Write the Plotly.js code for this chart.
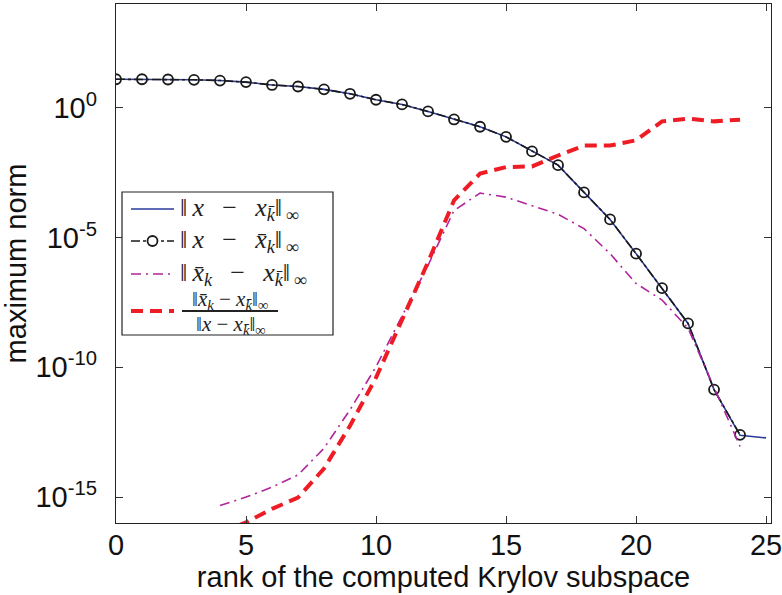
<!DOCTYPE html>
<html>
<head>
<meta charset="utf-8">
<script src="https://cdn.plot.ly/plotly-3.0.1.min.js"></script>
<style>html,body{margin:0;padding:0;background:#fff;}#chart{width:782px;height:595px;}</style>
</head>
<body>
<div id="chart"></div>
<script>
// rank of the computed Krylov subspace
const rankFull = [0,1,2,3,4,5,6,7,8,9,10,11,12,13,14,15,16,17,18,19,20,21,22,23,24,25];
const rankCircles = [0,1,2,3,4,5,6,7,8,9,10,11,12,13,14,15,16,17,18,19,20,21,22,23,24];
const rankDiff = [4,5,6,7,8,9,10,11,12,13,14,15,16,17,18,19,20,21,22,23,24];

// ||x - x_kbar||_inf
const errExact = [12.6,12.6,12.3,12.0,11.2,9.77,7.59,6.61,5.13,3.47,2.04,1.35,0.724,0.355,0.186,0.0759,0.0209,6.17e-3,5.5e-4,5.0e-5,2.4e-6,1.12e-7,4.9e-9,1.38e-11,2.4e-13,1.9e-13];
// ||x - xbar_k||_inf
const errApprox = [12.6,12.6,12.3,12.0,11.2,9.77,7.59,6.61,5.13,3.47,2.04,1.35,0.724,0.355,0.186,0.0759,0.0209,6.17e-3,5.5e-4,5.0e-5,2.4e-6,1.12e-7,4.9e-9,1.38e-11,2.5e-13];
// ||xbar_k - x_kbar||_inf
const diffAbs = [4.7e-16,1.0e-15,2.4e-15,7.1e-15,7.6e-14,2.3e-12,1.05e-10,8.9e-9,8.5e-7,1.1e-4,5.2e-4,3.6e-4,1.66e-4,7.9e-5,2.2e-5,2.4e-6,1.7e-7,3.9e-8,3.2e-9,1.8e-11,8.9e-14];
// ||xbar_k - x_kbar||_inf / ||x - x_kbar||_inf
const diffRel = [4.2e-17,1.05e-16,3.5e-16,9.5e-16,1.26e-14,5.6e-13,4.0e-11,6.6e-9,1.12e-6,2.7e-4,2.9e-3,5.2e-3,5.5e-3,1.45e-2,3.5e-2,3.5e-2,5.6e-2,0.30,0.38,0.30,0.35];

const yTickVals = [1e-15,1e-10,1e-5,1];
const yTickText = ['10<sup>-15</sup>','10<sup>-10</sup>','10<sup>-5</sup>','10<sup>0</sup>'];
const xTickVals = [0,5,10,15,20,25];

const legendNames = [
  '‖\u2009<i>x</i>\u2009  −  \u2009<i>x</i><sub><i>k̄</i></sub>‖<sub>\u2009∞</sub>',
  '‖\u2009<i>x</i>\u2009  −  \u2009<i>x̄</i><sub><i>k</i></sub>‖<sub>\u2009∞</sub>',
  '‖\u2009<i>x̄</i><sub><i>k</i></sub>\u2009  −  \u2009<i>x</i><sub><i>k̄</i></sub>‖<sub>\u2009∞</sub>'
];
const fracNum = '‖<i>x̄</i><sub><i>k</i></sub> − <i>x</i><sub><i>k̄</i></sub>‖<sub>∞</sub>';
const fracDen = '‖<i>x</i> − <i>x</i><sub><i>k̄</i></sub>‖<sub>∞</sub>';

const colors = {exact: '#2b3a9c', approx: '#1a1a1a', diff: '#b0259c', rel: '#ee1c25'};
const styles = {
  exact: {color: colors.exact, width: 1.6, dash: 'solid'},
  approx: {color: colors.approx, width: 1.6, dash: 'dashdot'},
  diff: {color: colors.diff, width: 1.6, dash: '10px,5px,2px,5px'},
  rel: {color: colors.rel, width: 4, dash: '12px,7px'}
};

const traces = [
  {x: rankFull, y: errExact, type: 'scatter', mode: 'lines', name: 'exact', line: styles.exact, showlegend: false},
  {x: rankCircles, y: errApprox, type: 'scatter', mode: 'lines+markers', name: 'approx', line: styles.approx,
   marker: {symbol: 'circle-open', size: 10, color: colors.approx, line: {width: 1.8, color: colors.approx}}, showlegend: false},
  {x: rankDiff, y: diffAbs, type: 'scatter', mode: 'lines', name: 'diff', line: styles.diff, showlegend: false},
  {x: rankDiff, y: diffRel, type: 'scatter', mode: 'lines', name: 'rel', line: styles.rel, showlegend: false}
];

// plot area in pixels (for legend placement)
const M = {l: 116, r: 11, t: 4, b: 72};
const W = 782, H = 595;
const PW = W - M.l - M.r, PH = H - M.t - M.b;
const px = v => (v - M.l) / PW;
const py = v => (H - M.b - v) / PH;

const shapes = [];
const annotations = [];
// legend box
shapes.push({type: 'rect', xref: 'paper', yref: 'paper', x0: px(122), x1: px(333), y0: py(192), y1: py(335),
  line: {color: '#222', width: 1.2}, fillcolor: '#fff', layer: 'above'});
const rows = [209, 241, 274, 311];
const keys = ['exact', 'approx', 'diff', 'rel'];
keys.forEach((k, i) => {
  shapes.push({type: 'line', xref: 'paper', yref: 'paper', x0: px(131), x1: px(174), y0: py(rows[i]), y1: py(rows[i]),
    line: styles[k], layer: 'above'});
});
// marker sample for approx
shapes.push({type: 'circle', xref: 'paper', yref: 'paper', xsizemode: 'pixel', ysizemode: 'pixel',
  xanchor: px(152.5), yanchor: py(rows[1]), x0: -5, x1: 5, y0: -5, y1: 5,
  line: {color: colors.approx, width: 1.8}, fillcolor: '#fff', layer: 'above'});
const legFont = {family: 'Liberation Serif, DejaVu Serif, serif', size: 26, color: '#222'};
legendNames.forEach((t, i) => {
  annotations.push({xref: 'paper', yref: 'paper', x: px(178), y: py(rows[i]), xanchor: 'left', yanchor: 'middle',
    text: t, showarrow: false, font: legFont});
});
const fracFont = {family: 'Liberation Serif, DejaVu Serif, serif', size: 21, color: '#222'};
annotations.push({xref: 'paper', yref: 'paper', x: px(230), y: py(300), xanchor: 'center', yanchor: 'middle',
  text: fracNum, showarrow: false, font: fracFont});
annotations.push({xref: 'paper', yref: 'paper', x: px(231), y: py(325), xanchor: 'center', yanchor: 'middle',
  text: fracDen, showarrow: false, font: fracFont});
shapes.push({type: 'line', xref: 'paper', yref: 'paper', x0: px(182), x1: px(278), y0: py(311), y1: py(311),
  line: {color: '#222', width: 1.8}, layer: 'above'});

const axisFont = {family: 'Liberation Sans, Arial, sans-serif', size: 29, color: '#111'};

const layout = {
  width: W, height: H,
  margin: {l: M.l, r: M.r, t: M.t, b: M.b, pad: 0},
  paper_bgcolor: '#fff', plot_bgcolor: '#fff',
  showlegend: false,
  font: axisFont,
  xaxis: {
    range: [0, 25.19], tickvals: xTickVals, ticktext: xTickVals.map(String),
    ticks: 'inside', ticklen: 7, tickwidth: 1, tickcolor: '#333',
    showline: true, linecolor: '#222', linewidth: 1.2, mirror: 'ticks',
    showgrid: false, zeroline: false, tickfont: axisFont, ticklabelstandoff: -4,
    ticklabeloverflow: 'allow',
    title: {text: 'rank of the computed Krylov subspace', font: axisFont, standoff: 4}
  },
  yaxis: {
    type: 'log', range: [-16, 4], tickvals: yTickVals, ticktext: yTickText,
    ticks: 'inside', ticklen: 7, tickwidth: 1, tickcolor: '#333',
    showline: true, linecolor: '#222', linewidth: 1.2, mirror: 'ticks',
    showgrid: false, zeroline: false, tickfont: axisFont, ticklabelstandoff: 12,
    title: {text: 'maximum norm', font: axisFont, standoff: 0}
  },
  shapes: shapes,
  annotations: annotations
};

Plotly.newPlot('chart', traces, layout, {staticPlot: true, displayModeBar: false});
</script>
</body>
</html>
